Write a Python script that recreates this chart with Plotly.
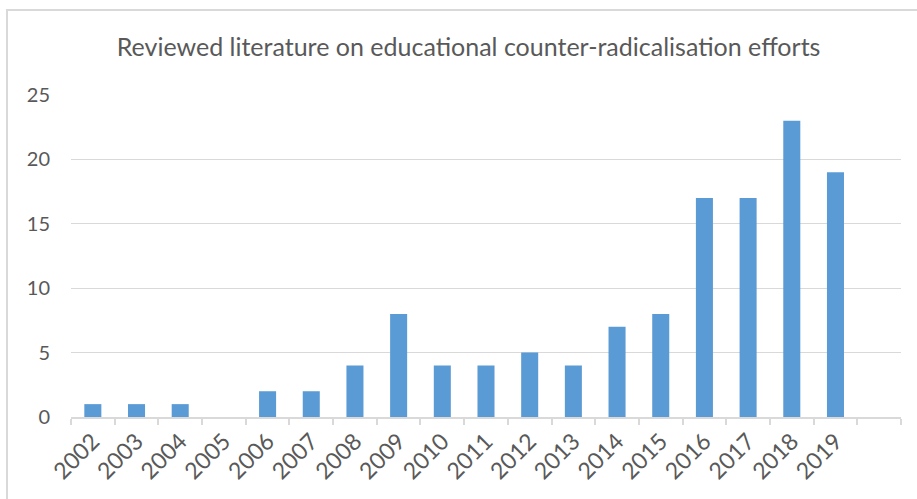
import plotly.graph_objects as go

years = ["2002", "2003", "2004", "2005", "2006", "2007", "2008", "2009", "2010",
         "2011", "2012", "2013", "2014", "2015", "2016", "2017", "2018", "2019", " "]
counts = [1, 1, 1, 0, 2, 2, 4, 8, 4, 4, 5, 4, 7, 8, 17, 17, 23, 19, None]
y_ticks = [0, 5, 10, 15, 20, 25]

title_text = "Reviewed literature on educational counter-radicalisation efforts"

FONT = "Lato"
GRAY = "#595959"
LINE = "#D9D9D9"

fig = go.Figure(go.Bar(
    x=years, y=counts,
    marker=dict(color="#5B9BD5", line=dict(width=0)),
    hoverinfo="x+y",
))

fig.update_layout(
    width=917, height=499,
    margin=dict(l=71, r=16, t=95, b=82),
    paper_bgcolor="white", plot_bgcolor="white",
    bargap=0.61,
    showlegend=False,
    title=dict(text=title_text, x=0.511, xanchor="center", y=0.906, yanchor="middle",
               font=dict(family=FONT, size=25, color=GRAY)),
    font=dict(family=FONT, color=GRAY),
)

fig.update_xaxes(
    type="category",
    tickangle=-45,
    tickfont=dict(family=FONT, size=23, color=GRAY),
    showline=True, linecolor=LINE, linewidth=1.5,
    ticks="outside", ticklen=6, tickcolor=LINE, tickwidth=1.5,
    tickson="boundaries",
    showgrid=False,
    fixedrange=True,
)

fig.update_yaxes(
    range=[0, 25],
    tickvals=y_ticks,
    tickfont=dict(family=FONT, size=20, color=GRAY),
    showgrid=True, gridcolor=LINE, gridwidth=1.3,
    showline=False, zeroline=False,
    ticks="", ticklabelstandoff=20,
    fixedrange=True,
)

# chart border (Excel-style chart area outline)
fig.add_shape(type="rect", xref="paper", yref="paper",
              x0=(7 - 71) / 830, x1=1.2, y0=-0.5, y1=(417 - 10) / 322,
              line=dict(color=LINE, width=2), fillcolor="rgba(0,0,0,0)", layer="below")

fig.write_html("out.html")
